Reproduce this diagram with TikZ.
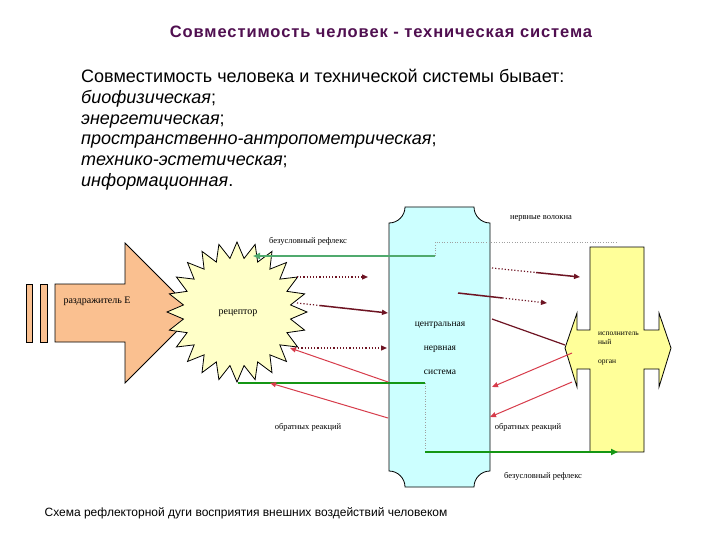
\documentclass[tikz,border=0pt]{standalone}
\usepackage{fontspec}
\setmainfont{Liberation Sans}
\newfontfamily\serifl{Liberation Serif}
\newfontfamily\titlefont[LetterSpace=5.5]{Liberation Sans}
\usetikzlibrary{arrows.meta,calc}
\definecolor{titlecol}{RGB}{80,15,80}
\definecolor{cyanfill}{RGB}{204,255,255}
\definecolor{yelfill}{RGB}{255,255,153}
\definecolor{starfill}{RGB}{255,255,200}
\definecolor{orfill}{RGB}{250,192,144}
\definecolor{maroonc}{RGB}{110,20,35}
\definecolor{redarr}{RGB}{215,60,75}
\definecolor{greenA}{RGB}{80,170,110}
\definecolor{greenB}{RGB}{20,150,20}
\definecolor{nervec}{RGB}{160,160,160}
\begin{document}
\begin{tikzpicture}[x=1pt,y=-1pt,
  shapeline/.style={draw=black, line width=0.8pt, line join=miter},
  lbl/.style={font=\serifl\fontsize{8.5}{9}\selectfont, inner sep=0},
  biglbl/.style={font=\serifl\fontsize{10}{11}\selectfont, inner sep=0},
  tip/.style={-{Triangle[length=6pt,width=5pt]}},
  affdot/.style={maroonc, line width=1.2pt, dotted},
  affsol/.style={maroonc, line width=1.5pt},
  feedb/.style={redarr, line width=1pt, tip},
  nerve/.style={nervec, line width=0.6pt, dotted},
]
\useasboundingbox[fill=white] (0,0) rectangle (720,540);

% texts at top
\node[font=\titlefont\bfseries\fontsize{16.5}{18}\selectfont, text=titlecol] (title) at (381,32)
  {Совместимость человек - техническая система};
\node[anchor=north west, align=left, inner sep=0, font=\fontsize{18}{20.8}\selectfont] (body) at (81,69)
  {Совместимость человека и технической системы бывает:\\
   \textit{биофизическая};\\
   \textit{энергетическая};\\
   \textit{пространственно-антропометрическая};\\
   \textit{технико-эстетическая};\\
   \textit{информационная}.};

% stimulus arrow
\draw[shapeline, fill=orfill] (26,284) rectangle (32,342);
\draw[shapeline, fill=orfill] (40,284) rectangle (47,342);
\draw[shapeline, fill=orfill] (55,284) -- (125,284) -- (125,243) -- (195,313)
  -- (125,383) -- (125,342) -- (55,342) -- cycle;

% receptor star
\draw[shapeline, fill=starfill] (307,312)
  \foreach \k [evaluate=\k as \r using {70-16*isodd(\k)}] in {1,...,47}
  { -- ({237+\r*cos(\k*7.5)},{312+\r*sin(\k*7.5)}) } -- cycle;

% central nervous system column
\draw[shapeline, fill=cyanfill]
  (389,223) .. controls (397.8,223) and (405,215.8) .. (405,207)
  -- (474,207) .. controls (474,215.8) and (481.2,223) .. (490,223)
  -- (490,471) .. controls (481.2,471) and (474,478.2) .. (474,487)
  -- (405,487) .. controls (405,478.2) and (397.8,471) .. (389,471) -- cycle;

% effector
\draw[shapeline, fill=yelfill]
  (590,247) -- (644,247) -- (644,330) -- (659,330) -- (659,313) -- (671,348)
  -- (659,387) -- (659,369) -- (644,369) -- (644,452) -- (590,452) -- (590,369)
  -- (577,369) -- (577,387) -- (565,348) -- (577,313) -- (577,330) -- (590,330) -- cycle;

% labels
\node[lbl] (nervelbl) at (541,218) {нервные волокна};
\node[lbl] (brtop) at (308,241) {безусловный рефлекс};
\node[biglbl] (stim) at (97,301) {раздражитель Е};
\node[biglbl] (rec) at (238,313) {рецептор};
\node[align=center, inner sep=0, font=\serifl\fontsize{9.5}{24}\selectfont] (cns) at (440,348)
  {центральная\\нервная\\система};
\node[anchor=north west, align=left, inner sep=0, font=\serifl\fontsize{7.5}{9}\selectfont] (eff) at (598,332)
  {исполнитель\\ный\\[10pt]орган};
\node[lbl] (fbl) at (308,427) {обратных реакций};
\node[lbl] (fbr) at (528,427) {обратных реакций};
\node[lbl] (brbot) at (543,476) {безусловный рефлекс};

% coordinates for connectors
\coordinate (g1s) at (435,256);
\coordinate (g1e) at (253,256);
\coordinate (nv1) at (435,242);
\coordinate (nv2) at (617,242);
\coordinate (g2a) at (238,383);
\coordinate (g2b) at (425,383);
\coordinate (g2c) at (425,452);
\coordinate (g2d) at (618,452);
\coordinate (a1s) at (297,277); \coordinate (a1e) at (368,277);
\coordinate (a2s) at (297,303); \coordinate (a2e) at (388,313);
\coordinate (a3s) at (295,348); \coordinate (a3e) at (387,348);
\coordinate (a4s) at (492,268); \coordinate (a4e) at (580,277);
\coordinate (a5s) at (458,293); \coordinate (a5e) at (547,303);
\coordinate (a6s) at (492,319); \coordinate (a6e) at (565,345);
\coordinate (f1s) at (572,353); \coordinate (f1e) at (492,387);
\coordinate (f2s) at (572,382); \coordinate (f2e) at (490,417);
\coordinate (f3s) at (388,382); \coordinate (f3e) at (290,348);
\coordinate (f4s) at (388,418); \coordinate (f4e) at (270,383);

% nerve fibres (grey dotted)
\draw[nerve] (g1s) -- (nv1) -- (nv2);
\draw[nerve] (g2b) -- (g2c);

% unconditioned reflex (green)
\draw[greenA, line width=2pt, -{Triangle[length=7pt,width=6pt]}] (g1s) -- (g1e);
\draw[greenB, line width=2pt] (g2a) -- (g2b);
\draw[greenB, line width=2pt, -{Triangle[length=7pt,width=6pt]}] (g2c) -- (g2d);

% afferent / efferent (maroon)
\draw[affdot, tip] (a1s) -- (a1e);
\draw[affdot] (a2s) -- ($(a2s)!0.25!(a2e)$);
\draw[affsol, tip] ($(a2s)!0.25!(a2e)$) -- (a2e);
\draw[affdot, tip] (a3s) -- (a3e);
\draw[affdot] (a4s) -- ($(a4s)!0.5!(a4e)$);
\draw[affsol, tip] ($(a4s)!0.5!(a4e)$) -- (a4e);
\draw[affsol] (a5s) -- ($(a5s)!0.5!(a5e)$);
\draw[affdot, tip] ($(a5s)!0.5!(a5e)$) -- (a5e);
\draw[affsol, line width=1.2pt] (a6s) -- (a6e);

% feedback (red)
\draw[feedb] (f1s) -- (f1e);
\draw[feedb] (f2s) -- (f2e);
\draw[feedb] (f3s) -- (f3e);
\draw[feedb] (f4s) -- (f4e);

% caption
\node[font=\fontsize{12}{14}\selectfont, inner sep=0] (caption) at (246,513)
  {Схема рефлекторной дуги восприятия внешних воздействий человеком};
\end{tikzpicture}
\end{document}
